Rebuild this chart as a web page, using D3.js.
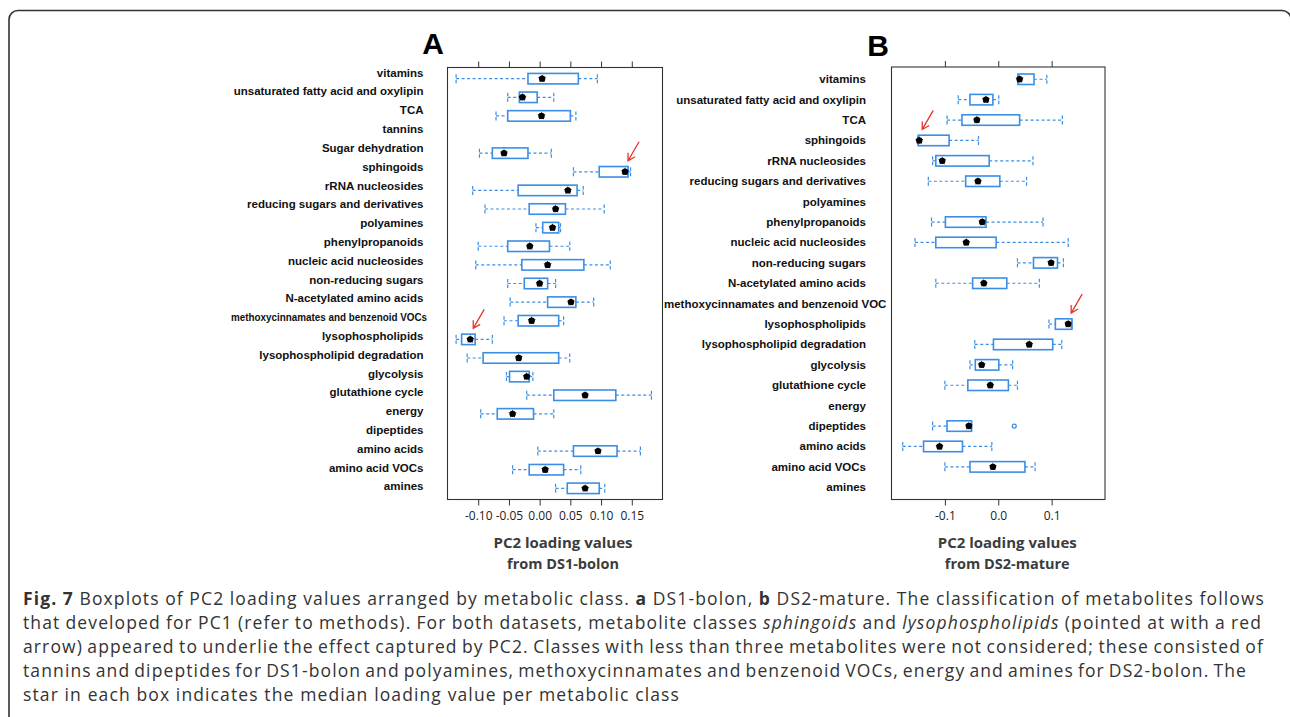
<!DOCTYPE html>
<html>
<head>
<meta charset="utf-8">
<script src="https://cdn.jsdelivr.net/npm/d3@7"></script>
<style>
  body { margin: 0; background: #fff; }
  svg { display: block; }
</style>
</head>
<body>
<svg id="chart" width="1290" height="717"></svg>
<script>
// ---- panel A : DS1-bolon ----
const classesA = ["vitamins", "unsaturated fatty acid and oxylipin", "TCA", "tannins", "Sugar dehydration",
  "sphingoids", "rRNA nucleosides", "reducing sugars and derivatives", "polyamines", "phenylpropanoids",
  "nucleic acid nucleosides", "non-reducing sugars", "N-acetylated amino acids",
  "methoxycinnamates and benzenoid VOCs", "lysophospholipids", "lysophospholipid degradation",
  "glycolysis", "glutathione cycle", "energy", "dipeptides", "amino acids", "amino acid VOCs", "amines"];
const lowA  = [-0.136, -0.052, -0.071, null, -0.098, 0.055, -0.109, -0.089, -0.006, -0.100, -0.104, -0.052, -0.048, -0.058, -0.136, -0.118, -0.054, -0.021, -0.096, null, -0.003, -0.044, 0.026];
const q1A   = [-0.019, -0.033, -0.052, null, -0.077, 0.097, -0.035, -0.017, 0.005, -0.052, -0.029, -0.025, 0.013, -0.035, -0.127, -0.092, -0.049, 0.023, -0.069, null, 0.055, -0.017, 0.045];
const medA  = [0.004, -0.028, 0.003, null, -0.058, 0.139, 0.046, 0.026, 0.021, -0.016, 0.013, 0.000, 0.051, -0.013, -0.113, -0.034, -0.021, 0.074, -0.044, null, 0.095, 0.009, 0.074];
const q3A   = [0.063, -0.004, 0.050, null, -0.019, 0.144, 0.061, 0.042, 0.031, 0.016, 0.072, 0.013, 0.059, 0.031, -0.105, 0.031, -0.017, 0.124, -0.010, null, 0.126, 0.039, 0.097];
const highA = [0.094, 0.023, 0.059, null, 0.019, 0.148, 0.071, 0.105, 0.034, 0.049, 0.115, 0.026, 0.088, 0.039, -0.077, 0.049, -0.011, 0.182, 0.023, null, 0.164, 0.067, 0.106];
const ticksA = [-0.10, -0.05, 0.00, 0.05, 0.10, 0.15];

// ---- panel B : DS2-mature ----
const classesB = ["vitamins", "unsaturated fatty acid and oxylipin", "TCA", "sphingoids", "rRNA nucleosides",
  "reducing sugars and derivatives", "polyamines", "phenylpropanoids", "nucleic acid nucleosides",
  "non-reducing sugars", "N-acetylated amino acids", "methoxycinnamates and benzenoid VOC",
  "lysophospholipids", "lysophospholipid degradation", "glycolysis", "glutathione cycle", "energy",
  "dipeptides", "amino acids", "amino acid VOCs", "amines"];
const lowB  = [0.037, -0.075, -0.096, -0.150, -0.123, -0.131, null, -0.125, -0.156, 0.036, -0.117, null, 0.095, -0.044, -0.053, -0.100, null, -0.123, -0.179, -0.100, null];
const q1B   = [0.037, -0.053, -0.068, -0.150, -0.117, -0.061, null, -0.099, -0.117, 0.066, -0.048, null, 0.107, -0.009, -0.043, -0.057, null, -0.096, -0.140, -0.053, null];
const medB  = [0.040, -0.023, -0.040, -0.148, -0.105, -0.038, null, -0.030, -0.060, 0.099, -0.027, null, 0.131, 0.058, -0.031, -0.015, null, -0.055, -0.110, -0.010, null];
const q3B   = [0.067, -0.010, 0.040, -0.092, -0.017, 0.003, null, -0.023, -0.004, 0.111, 0.016, null, 0.138, 0.102, 0.001, 0.019, null, -0.050, -0.067, 0.050, null];
const highB = [0.091, 0.001, 0.120, -0.037, 0.065, 0.053, null, 0.084, 0.131, 0.122, 0.077, null, 0.138, 0.119, 0.027, 0.036, null, -0.050, -0.012, 0.069, null];
const outlierClassesB = ["dipeptides"];
const outlierValuesB = [0.030];
const ticksB = [-0.1, 0.0, 0.1];

// classes pointed at with a red arrow
const highlighted = ["sphingoids", "lysophospholipids"];

const captionLines = [
  [["Fig. 7", "b"], [" Boxplots of PC2 loading values arranged by metabolic class. "], ["a", "b"], [" DS1-bolon, "], ["b", "b"],
   [" DS2-mature. The classification of metabolites follows"]],
  [["that developed for PC1 (refer to methods). For both datasets, metabolite classes "], ["sphingoids", "i"], [" and "],
   ["lysophospholipids", "i"], [" (pointed at with a red"]],
  [["arrow) appeared to underlie the effect captured by PC2. Classes with less than three metabolites were not considered; these consisted of"]],
  [["tannins and dipeptides for DS1-bolon and polyamines, methoxycinnamates and benzenoid VOCs, energy and amines for DS2-bolon. The"]],
  [["star in each box indicates the median loading value per metabolic class"]]
];

const blue = "#3b8ee6";
const svg = d3.select("#chart");

// outer rounded frame (only top/left visible in the crop)
svg.append("rect")
  .attr("x", 9).attr("y", 10.5).attr("width", 1282).attr("height", 760)
  .attr("rx", 9).attr("fill", "none").attr("stroke", "#333").attr("stroke-width", 1.6);

function drawPanel(p) {
  const g = svg.append("g");
  const x = d3.scaleLinear().domain(p.domain).range([p.left, p.right]);
  const y = d3.scalePoint().domain(p.classes).range([p.top, p.bottom]).padding(0.6);
  const yLab = d3.scalePoint().domain(p.classes)
    .range([y(p.classes[0]) + p.labShiftTop, y(p.classes[p.classes.length - 1]) + p.labShiftBottom]);

  const rows = p.classes.map((c, i) => ({
    c, lo: p.low[i], q1: p.q1[i], med: p.med[i], q3: p.q3[i], hi: p.high[i]
  })).filter(d => d.med !== null);

  // axes
  const fmt = v => d3.format(p.fmt)(v).replace("\u2212", "-");
  const top = g.append("g").attr("transform", `translate(0,${p.top})`)
    .call(d3.axisTop(x).tickValues(p.ticks).tickSize(6).tickFormat(""));
  const bot = g.append("g").attr("transform", `translate(0,${p.bottom})`)
    .call(d3.axisBottom(x).tickValues(p.ticks).tickSize(6).tickPadding(6).tickFormat(fmt));
  [top, bot].forEach(a => {
    a.select(".domain").remove();
    a.selectAll(".tick line").attr("stroke", "#333");
  });
  bot.selectAll(".tick text")
    .attr("font-family", "'Open Sans', sans-serif").attr("font-size", 12).attr("fill", "#222");

  g.append("rect")
    .attr("x", p.left).attr("y", p.top)
    .attr("width", p.right - p.left).attr("height", p.bottom - p.top)
    .attr("fill", "none").attr("stroke", "#333").attr("stroke-width", 1.1);

  // whiskers
  const bh = 10.5, ch = 9;
  const b = g.selectAll(".bx").data(rows).enter().append("g").attr("class", "bx");
  b.append("line")
    .attr("x1", d => x(d.lo)).attr("x2", d => x(d.q1))
    .attr("y1", d => y(d.c)).attr("y2", d => y(d.c))
    .attr("stroke", blue).attr("stroke-width", 1.2).attr("stroke-dasharray", "3,2.5");
  b.append("line")
    .attr("x1", d => x(d.q3)).attr("x2", d => x(d.hi))
    .attr("y1", d => y(d.c)).attr("y2", d => y(d.c))
    .attr("stroke", blue).attr("stroke-width", 1.2).attr("stroke-dasharray", "3,2.5");
  ["lo", "hi"].forEach(k => {
    b.append("line")
      .attr("x1", d => x(d[k])).attr("x2", d => x(d[k]))
      .attr("y1", d => y(d.c) - ch / 2).attr("y2", d => y(d.c) + ch / 2)
      .attr("stroke", blue).attr("stroke-width", 1.2).attr("stroke-dasharray", "3.5,2");
  });
  b.append("rect")
    .attr("x", d => x(d.q1)).attr("y", d => y(d.c) - bh / 2)
    .attr("width", d => Math.max(1, x(d.q3) - x(d.q1))).attr("height", bh)
    .attr("fill", "#fff").attr("stroke", blue).attr("stroke-width", 1.6);
  // median "star"
  b.append("circle")
    .attr("cx", d => x(d.med)).attr("cy", d => y(d.c)).attr("r", 3.2).attr("fill", "#000");
  b.append("path")
    .attr("transform", d => `translate(${x(d.med)},${y(d.c)})`)
    .attr("d", d3.symbol(d3.symbolStar, 22)).attr("fill", "#000");

  // outliers
  if (p.outC) {
    g.selectAll(".out").data(p.outC.map((c, i) => ({ c, v: p.outV[i] }))).enter()
      .append("circle").attr("class", "out")
      .attr("cx", d => x(d.v)).attr("cy", d => y(d.c)).attr("r", 2)
      .attr("fill", "none").attr("stroke", blue).attr("stroke-width", 1.2);
  }

  // class labels
  g.selectAll(".lab").data(p.classes).enter().append("text").attr("class", "lab")
    .attr("x", p.labX).attr("y", d => yLab(d)).attr("dy", "0.35em")
    .attr("text-anchor", "end")
    .attr("font-family", "'Liberation Sans', Arial, sans-serif").attr("font-weight", 700)
    .attr("font-size", 11.5).attr("fill", "#111")
    .text(d => d)
    .each(function () {
      const w = this.getComputedTextLength();
      if (p.labMaxW && w > p.labMaxW) {
        // squeezed long label, as in the original figure
        d3.select(this).attr("x", p.labX + 3.5)
          .attr("textLength", p.labMaxW).attr("lengthAdjust", "spacingAndGlyphs");
      } else if (p.labMinX && p.labX - w < p.labMinX) {
        d3.select(this).attr("text-anchor", "start").attr("x", p.labMinX);
      }
    });

  // panel letter
  g.append("text").attr("x", p.letterX).attr("y", p.letterY).attr("text-anchor", "middle")
    .attr("font-family", "'Liberation Sans', Arial, sans-serif").attr("font-weight", 700)
    .attr("font-size", 30).attr("fill", "#000").text(p.letter);

  // axis title
  const cx = (p.left + p.right) / 2 + p.titleShift;
  p.title.forEach((t, i) => {
    g.append("text").attr("x", cx).attr("y", p.bottom + 48 + i * 21).attr("text-anchor", "middle")
      .attr("font-family", "'Open Sans', sans-serif").attr("font-weight", 700)
      .attr("font-size", i === 0 ? 15 : 14.5).attr("fill", "#3c3c3c").text(t);
  });

  // red arrows
  rows.filter(d => highlighted.includes(d.c)).forEach(d => {
    const tx = x(d.med) + 3, ty = y(d.c) - 11;
    const sx = tx + 11, sy = ty - 19;
    const ang = Math.atan2(sy - ty, sx - tx), len = 8, spread = Math.PI / 6;
    const path = d3.path();
    path.moveTo(sx, sy); path.lineTo(tx, ty);
    path.moveTo(tx + len * Math.cos(ang - spread), ty + len * Math.sin(ang - spread));
    path.lineTo(tx, ty);
    path.lineTo(tx + len * Math.cos(ang + spread), ty + len * Math.sin(ang + spread));
    g.append("path").attr("d", path.toString()).attr("fill", "none")
      .attr("stroke", "#e8342e").attr("stroke-width", 1.3);
  });
}

drawPanel({
  classes: classesA, low: lowA, q1: q1A, med: medA, q3: q3A, high: highA,
  domain: [-0.15, 0.20], ticks: ticksA, fmt: ".2f",
  left: 447.5, right: 662.5, top: 67.5, bottom: 499.5,
  labX: 423.5, labMaxW: 196, labShiftTop: -6, labShiftBottom: -2,
  letter: "A", letterX: 433, letterY: 54,
  title: ["PC2 loading values", "from DS1-bolon"], titleShift: 8
});

drawPanel({
  classes: classesB, low: lowB, q1: q1B, med: medB, q3: q3B, high: highB,
  outC: outlierClassesB, outV: outlierValuesB,
  domain: [-0.2, 0.2], ticks: ticksB, fmt: ".1f",
  left: 891.5, right: 1105, top: 67, bottom: 499.5,
  labX: 866, labMinX: 664, labShiftTop: 0, labShiftBottom: 0,
  letter: "B", letterX: 878, letterY: 56,
  title: ["PC2 loading values", "from DS2-mature"], titleShift: 9
});

// caption: last line sets the letter spacing, the others are justified
const capX = 23, capEnds = [1265, 1262, 1264, 1247, 680];
const capTexts = captionLines.map((segs, i) => {
  const t = svg.append("text").attr("x", capX).attr("y", 605 + i * 23.9)
    .attr("font-family", "'Open Sans', sans-serif").attr("font-size", 17.5).attr("fill", "#333");
  segs.forEach(s => {
    t.append("tspan").text(s[0])
      .attr("font-weight", s[1] === "b" ? 700 : null)
      .attr("font-style", s[1] === "i" ? "italic" : null);
  });
  return t;
});
const last = capTexts[capTexts.length - 1];
const ls = (capEnds[capEnds.length - 1] - capX - last.node().getComputedTextLength()) / last.text().length;
capTexts.forEach(t => t.attr("letter-spacing", ls));
capTexts.slice(0, -1).forEach((t, i) => {
  const w = t.node().getComputedTextLength();
  const n = t.text().split(" ").length - 1;
  t.attr("word-spacing", (capEnds[i] - capX - w) / n);
});
</script>
</body>
</html>
